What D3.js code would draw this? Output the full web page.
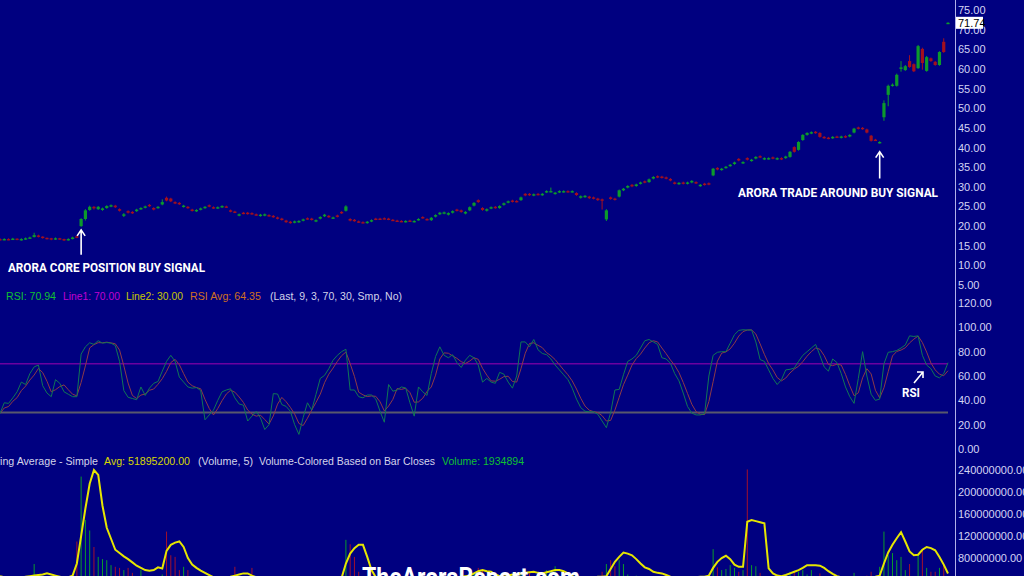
<!DOCTYPE html>
<html>
<head>
<meta charset="utf-8">
<script src="https://cdn.jsdelivr.net/npm/d3@7"></script>
<style>
  html, body { margin: 0; padding: 0; background: #000080; overflow: hidden; }
  svg { display: block; }
  .tick text { font-family: "Liberation Sans", Arial, sans-serif; font-size: 11px; fill: #d4d4f4; }
</style>
</head>
<body>
<script>
// candles (one per trading day)
let opens = [16.7,16.5,16.7,16.6,16.8,16.5,16.6,16.9,17.2,17.6,17.3,17.0,16.9,16.6,16.9,16.7,16.4,16.7,17.4,20.0,
  21.8,24.1,24.9,24.3,24.1,24.6,25.0,25.2,24.3,22.6,23.8,23.6,23.8,24.3,24.7,25.4,24.6,24.6,25.5,27.2,
  27.0,26.1,25.9,24.9,24.9,24.2,23.8,24.2,24.6,25.3,24.8,24.6,24.8,25.0,24.0,23.7,22.7,23.4,23.4,23.3,
  23.0,22.6,22.7,22.8,22.6,22.2,21.9,21.4,21.1,20.9,21.0,21.4,22.0,21.9,21.2,21.9,22.5,22.6,22.0,22.7,
  23.6,23.9,21.8,21.6,21.2,21.0,20.8,21.2,21.9,21.9,22.0,21.9,21.6,21.4,21.3,21.1,21.4,21.1,21.6,22.3,
  21.8,21.5,22.4,23.0,23.2,22.9,23.4,24.2,24.0,23.2,24.0,25.2,26.6,24.6,23.9,24.5,24.9,24.6,25.4,26.0,
  26.5,26.4,26.6,28.2,28.2,27.8,28.2,27.9,28.6,28.8,28.2,28.6,28.7,28.9,28.7,28.4,27.2,27.4,27.5,27.3,
  27.0,26.8,21.7,27.3,27.0,27.5,29.1,29.8,30.5,30.2,30.8,31.4,31.2,32.1,32.7,32.6,32.4,32.0,31.1,30.7,
  31.1,30.8,31.1,31.2,30.2,30.8,30.9,32.9,34.8,34.3,34.8,35.3,35.8,37.1,36.0,37.3,36.6,37.2,37.8,37.0,
  37.1,37.5,37.0,37.3,37.3,37.6,40.1,39.4,41.9,43.2,43.6,44.0,43.7,42.7,42.5,42.4,42.8,42.5,42.9,42.8,
  43.8,45.1,45.0,44.6,43.0,42.0,41.2,47.7,53.4,55.7,55.7,60.0,59.7,62.0,61.2,60.2,65.1,59.5,62.7,61.8,
  61.0,66.9,71.6];
let closes = [16.5,16.7,16.6,16.8,16.6,16.7,16.9,17.1,17.7,17.3,17.0,16.8,16.6,16.9,16.7,16.4,16.7,17.1,17.0,21.8,
  24.0,24.9,24.5,24.9,24.5,25.1,25.3,24.8,23.9,23.0,23.4,23.3,24.2,24.6,25.0,25.1,24.2,24.9,26.1,26.5,
  26.3,25.8,25.6,25.2,24.6,23.9,24.1,24.5,24.9,25.0,24.6,24.8,25.1,24.8,23.7,23.5,23.0,23.2,23.1,23.1,
  22.8,22.9,23.0,22.6,22.3,21.9,21.6,21.0,20.8,21.2,21.3,21.7,21.8,21.6,21.5,22.3,22.9,22.3,22.2,22.4,
  23.3,25.0,21.4,21.3,21.0,20.9,21.1,21.5,21.7,21.8,21.9,21.7,21.5,21.3,21.2,21.3,21.3,21.3,21.8,22.1,
  21.6,22.1,22.8,23.4,23.5,23.3,23.8,23.9,23.6,23.6,24.8,25.9,26.1,24.1,24.3,24.8,24.6,25.1,25.8,26.3,
  26.2,26.2,27.3,27.8,27.9,28.1,28.0,28.2,28.9,28.9,28.5,28.9,28.9,28.7,28.9,27.9,27.6,27.7,27.1,27.0,
  26.6,26.5,24.0,26.9,26.7,29.1,29.5,30.2,30.1,30.6,31.1,31.1,31.9,32.5,32.4,32.3,32.1,31.6,30.8,31.0,
  30.8,31.1,31.5,30.9,30.5,30.5,30.6,34.6,34.4,34.6,35.1,35.6,36.2,36.7,36.3,36.9,36.9,37.6,37.5,37.3,
  37.3,37.2,37.3,37.0,37.7,38.9,38.9,41.4,43.2,43.7,43.9,43.7,42.7,42.4,42.3,42.7,42.6,42.8,42.6,43.2,
  44.8,44.8,44.7,43.8,41.7,41.9,41.4,51.3,55.7,56.0,58.5,60.4,60.7,60.5,59.4,65.8,61.5,63.0,62.0,61.0,
  64.3,64.3,71.74];
let highs = [16.9,16.9,16.9,17.0,16.9,16.9,17.1,17.3,18.3,17.8,17.4,17.1,17.0,17.1,17.0,16.8,16.9,17.3,17.6,22.0,
  24.3,25.2,25.1,25.1,24.7,25.3,25.5,25.4,24.5,23.3,24.0,23.8,24.4,24.8,25.2,25.6,24.8,25.1,26.8,27.5,
  27.2,26.3,26.1,25.4,25.1,24.4,24.3,24.7,25.1,25.5,25.0,25.0,25.3,25.2,24.2,23.9,23.2,23.6,23.6,23.5,
  23.2,23.1,23.2,23.0,22.8,22.4,22.1,21.6,21.3,21.4,21.5,21.9,22.2,22.1,21.7,22.5,23.1,22.8,22.4,22.9,
  23.8,25.3,22.0,21.8,21.4,21.2,21.3,21.7,22.1,22.1,22.2,22.1,21.8,21.6,21.5,21.5,21.6,21.5,22.0,22.5,
  22.0,22.3,23.0,23.6,23.7,23.5,24.0,24.4,24.2,23.8,25.0,26.1,26.8,24.8,24.5,25.0,25.1,25.3,26.0,26.5,
  26.7,26.6,27.5,28.4,28.4,28.3,28.4,28.4,29.1,29.8,28.7,29.1,29.1,29.1,29.1,28.6,27.8,27.9,27.7,27.5,
  27.2,27.0,24.3,27.5,27.2,29.3,29.7,30.4,30.7,30.8,31.3,31.6,32.1,32.7,32.9,32.8,32.6,32.2,31.3,31.2,
  31.3,31.3,31.7,31.4,30.7,31.0,31.1,34.8,35.0,34.8,35.3,35.8,36.4,37.3,36.5,37.5,37.1,37.8,38.0,37.5,
  37.5,37.7,37.5,37.5,37.9,39.1,40.3,41.6,43.4,43.9,44.1,44.2,43.9,42.9,42.7,42.9,43.0,43.0,43.1,43.4,
  45.0,45.3,45.2,44.8,43.2,42.2,41.6,52.0,56.0,56.3,58.8,62.0,61.0,63.5,61.4,66.1,65.4,63.3,62.9,62.0,
  64.5,67.8,71.9];
let lows = [16.3,16.4,16.4,16.5,16.4,16.3,16.5,16.8,17.1,17.1,16.8,16.6,16.4,16.5,16.5,16.2,16.3,16.6,16.9,19.8,
  21.4,23.9,24.2,24.1,23.9,24.4,24.8,24.6,23.7,22.3,23.2,23.1,23.6,24.1,24.5,24.9,24.0,24.4,25.3,26.3,
  26.1,25.6,25.4,24.7,24.4,23.7,23.6,24.0,24.4,24.8,24.4,24.4,24.6,24.6,23.5,23.3,22.5,23.0,22.9,22.9,
  22.6,22.4,22.5,22.4,22.1,21.7,21.4,20.8,20.6,20.7,20.8,21.2,21.6,21.4,21.0,21.7,22.3,22.1,21.8,22.2,
  23.1,23.7,21.2,21.1,20.8,20.7,20.6,21.0,21.5,21.6,21.7,21.5,21.3,21.1,21.0,20.9,21.1,20.9,21.4,21.9,
  21.4,21.3,22.2,22.8,23.0,22.7,23.2,23.7,23.4,23.0,23.8,25.0,25.9,23.9,23.7,24.3,24.4,24.4,25.2,25.8,
  26.0,26.0,26.4,27.6,27.7,27.6,27.8,27.7,28.4,28.6,28.0,28.4,28.5,28.5,28.5,27.7,27.0,27.2,26.9,26.8,
  26.4,24.2,21.3,26.7,26.5,27.3,28.9,29.6,29.9,30.0,30.6,30.9,31.0,31.9,32.2,32.1,31.9,31.4,30.6,30.5,
  30.6,30.6,30.9,30.7,30.0,30.3,30.4,32.7,34.2,34.1,34.6,35.1,35.6,36.5,35.8,36.7,36.4,37.0,37.3,36.8,
  36.9,37.0,36.8,36.8,37.1,37.4,38.7,39.2,41.7,43.0,43.4,43.5,42.5,42.2,42.1,42.2,42.4,42.3,42.4,42.6,
  43.6,44.6,44.5,43.6,41.5,41.7,41.0,46.8,50.5,55.5,55.5,59.3,59.5,60.3,59.2,60.0,59.8,59.3,61.8,60.8,
  60.8,64.1,71.5];

// RSI (9) and its 3-period average
let rsi = [29.3,38,37.5,42,47,55,53,62,67.5,69,52,46,43,57,54,47,45,43,43,78,
  84,87.3,86,89,87,87.5,87,85,72,48,42.5,41.5,40.5,51,44,50,54,55.5,64,72,
  77,72,59,55,51,50,50.5,48,24,28,32,40,47,48.5,49.5,42,37,36,23,27,
  31,25.5,16,20,45.5,45.2,36.5,35,31,20,12,26,38,32,45,58,60.5,66,73,77,
  80,82,48.5,48.5,43,42,44.4,44.4,41,31,22,53,47.5,48.5,51,50.2,38,27,51,47,
  44,62,76,84,77,75,77.5,71,67,73,77,75,69,55,58,55,54,63,61.5,55,
  50,60,88,88,84,90,81.5,78.5,77.5,74,69,65,61,57,50,41,34,31,30.6,30.6,
  28.5,23,17.5,30,48.5,49,61,72,74,77,83,89,90,88,86,75,74,70.5,62,56,
  46,35,29.5,28,28,29,60,77,79.5,80,80,87,94,97.5,98,97.8,97.8,88,73.5,72,
  65,58,53,57,65,65.5,66.5,72,77,80,83,86,77,67.5,64,74,71,62,51,43,
  37.5,58,80,60,45,40,41,70,79.5,80,81,83,85.5,93,92.5,93,77,69,66,60,
  58.5,62,70.94];
let rsiAvg = [29.3,33.7,34.9,39.2,42.2,48,51.7,56.7,60.8,66.2,62.8,55.7,47,48.7,51.3,52.7,48.7,45,43.7,54.7,
  68.3,83.1,85.8,87.4,87.3,87.8,87.2,86.5,81.3,68.3,54.2,44,41.5,44.3,45.2,48.3,49.3,53.2,57.8,63.8,
  71,73.7,69.3,62,55,52,50.5,49.5,40.8,33.3,28,33.3,39.7,45.2,48.3,46.7,42.8,38.3,32,28.7,
  27,27.8,24.2,20.5,27.2,36.9,42.4,38.9,34.2,28.7,21,19.3,25.3,32,38.3,45,54.5,61.5,66.5,72,
  76.7,79.7,70.2,59.7,46.7,44.5,43.1,43.6,43.3,38.8,31.3,35.3,40.8,49.7,49,49.9,46.4,38.4,38.7,41.7,
  47.3,51,60.7,74,79,78.7,76.5,74.5,71.8,70.3,72.3,75,73.7,66.3,60.7,56,55.7,57.3,59.5,59.8,
  55.5,55,66,78.7,86.7,87.3,85.2,83.3,79.2,76.7,73.5,69.3,65,61,56,49.3,41.7,35.3,31.9,30.7,
  29.9,27.4,23,23.5,32,42.5,52.8,60.7,69,74.3,78,83,87.3,89,88,83,78.3,73.2,68.8,62.8,
  54.7,45.7,36.8,30.8,28.5,28.3,39,55.3,72.2,78.8,79.8,82.3,87,92.8,96.5,97.8,97.9,94.5,86.4,77.8,
  70.2,65,58.7,56,58.3,62.5,65.7,68,71.8,76.3,80,83,82,76.8,69.5,68.5,69.7,69,61.3,52,
  43.8,46.2,58.5,66,61.7,48.3,42,50.3,63.5,76.5,80.2,81.3,83.2,87.2,90.3,92.8,87.5,79.7,70.7,65,
  61.5,60.2,64.35];

// volume in millions of shares, and its 5-period simple average
let volume = [30,25,28,22,26,30,24,35,69,40,30,25,28,22,30,26,24,35,110,228,
  149,130,100,82,78,76,67,64,62,58,62,53,45,58,40,38,42,45,50,128,
  85,82,58,64,58,42,40,35,38,30,32,28,35,30,40,64,40,35,45,62,
  38,30,28,35,30,32,28,40,35,30,38,32,28,30,35,30,25,32,28,30,
  45,113,105,82,55,45,40,35,30,28,32,30,26,28,25,30,34,40,30,28,
  32,38,42,36,30,28,34,40,44,38,46,52,62,58,48,52,40,36,45,42,
  38,44,55,50,52,45,50,42,58,54,65,48,40,38,35,42,40,38,36,40,
  42,55,69,76,65,76,69,50,45,48,42,40,46,44,38,40,36,38,35,40,
  42,38,36,40,35,38,48,96,63,58,60,67,62,55,58,241,67,65,53,45,
  40,42,38,44,48,55,56,55,58,50,58,45,52,40,38,36,40,34,38,42,
  53,40,38,48,55,45,64,128,85,89,76,82,58,69,45,85,95,62,55,55,
  62,69,1.934894];
let volAvg = [47,45,44,42,42,44,46,47,48,49,50,52,50,48,46,44,45,48,70,120,
  170,215,240,231,175,135,115,95,89,83,78,72,66,62,58,57,58,63,61,93,
  104,108,110,100,80,68,62,57,53,49,45,42,40,42,46,48,50,52,52,48,
  45,42,38,35,33,32,34,36,37,35,33,32,31,30,31,32,33,32,34,38,
  44,70,88,98,104,104,82,58,45,40,38,36,35,34,33,32,33,35,37,38,
  36,35,36,38,40,42,43,44,46,47,48,52,56,58,56,55,50,47,46,48,
  50,49,52,53,54,55,53,52,54,56,58,58,56,52,47,44,42,40,42,44,
  46,46,47,60,73,82,90,88,85,78,70,63,60,55,53,52,49,46,44,42,
  42,43,44,45,46,46,48,62,73,80,84,78,68,64,64,146,149,147,145,143,
  61,52,48,47,49,52,55,58,62,67,67,67,66,62,56,51,47,45,43,41,
  40,40,41,43,45,46,48,70,90,104,116,127,110,92,85,86,95,100,98,94,
  82,68,51.8952];

// axis ticks
let priceTicks = [5,10,15,20,25,30,35,40,45,50,55,60,65,70,75];
let rsiTicks = [0,20,40,60,80,100,120];
let volTicks = [40,80,120,160,200,240];
let rsiLine1 = 70;
let rsiLine2 = 30;

let W = 1024, H = 576;
let axisX = 955;
let N = closes.length;

let green = '#0c9a2c', red = '#a4101e';

let svg = d3.select('body').append('svg')
  .attr('width', W)
  .attr('height', H);

svg.append('rect').attr('width', W).attr('height', H).attr('fill', '#000080');

let x = d3.scaleLinear().domain([0, N - 1]).range([0, 948]);
let yP = d3.scaleLinear().domain([5, 75]).range([285, 10]);
let yR = d3.scaleLinear().domain([0, 120]).range([449, 303]);
let yV = d3.scaleLinear().domain([0, 240]).range([602, 470]);

let bars = d3.range(N);

// ---- price candles
let candles = svg.append('g');
candles.selectAll('line')
  .data(bars)
  .enter()
  .append('line')
  .attr('x1', i => x(i)).attr('x2', i => x(i))
  .attr('y1', i => yP(highs[i])).attr('y2', i => yP(lows[i]))
  .attr('stroke', i => closes[i] >= opens[i] ? green : red)
  .attr('stroke-width', 1);

candles.selectAll('rect')
  .data(bars)
  .enter()
  .append('rect')
  .attr('x', i => x(i) - 1.6)
  .attr('width', 3.2)
  .attr('y', i => yP(Math.max(opens[i], closes[i])))
  .attr('height', i => Math.max(1.4, Math.abs(yP(opens[i]) - yP(closes[i]))))
  .attr('fill', i => closes[i] >= opens[i] ? green : red);

// ---- RSI panel
svg.append('line')
  .attr('x1', x(0)).attr('x2', x(N - 1))
  .attr('y1', yR(rsiLine1)).attr('y2', yR(rsiLine1))
  .attr('stroke', '#a000b0').attr('stroke-width', 1);
svg.append('line')
  .attr('x1', x(0)).attr('x2', x(N - 1))
  .attr('y1', yR(rsiLine2)).attr('y2', yR(rsiLine2))
  .attr('stroke', '#58586c').attr('stroke-width', 2);

let rsiPath = d3.line().x((d, i) => x(i)).y(d => yR(d));
svg.append('path').datum(rsiAvg)
  .attr('d', rsiPath)
  .attr('fill', 'none').attr('stroke', '#8c3a48').attr('stroke-width', 1);
svg.append('path').datum(rsi)
  .attr('d', rsiPath)
  .attr('fill', 'none').attr('stroke', '#107656').attr('stroke-width', 1);

// ---- volume panel
svg.append('g').selectAll('line')
  .data(bars)
  .enter()
  .append('line')
  .attr('x1', i => x(i)).attr('x2', i => x(i))
  .attr('y1', yV(0)).attr('y2', i => yV(volume[i]))
  .attr('stroke', i => closes[i] >= opens[i] ? '#0a9a2a' : '#a2102c')
  .attr('stroke-width', 1);

svg.append('path').datum(volAvg)
  .attr('d', d3.line().x((d, i) => x(i)).y(d => yV(d)))
  .attr('fill', 'none').attr('stroke', '#e6e600').attr('stroke-width', 2);

// ---- right axis
svg.append('line')
  .attr('x1', axisX + 0.5).attr('x2', axisX + 0.5)
  .attr('y1', 0).attr('y2', H)
  .attr('stroke', '#b0b0e8').attr('stroke-width', 1);

let fmt = d3.format('.2f');
let addAxis = (scale, ticks, format) => {
  let g = svg.append('g')
    .attr('transform', 'translate(' + axisX + ',0)')
    .call(d3.axisRight(scale).tickValues(ticks).tickSize(0).tickPadding(3).tickFormat(format));
  g.select('.domain').remove();
};
addAxis(yP, priceTicks, fmt);
addAxis(yR, rsiTicks, fmt);
addAxis(yV, volTicks, d => fmt(d * 1e6));

// last price marker
let last = closes[N - 1];
svg.append('rect')
  .attr('x', axisX + 1).attr('y', yP(last) - 6)
  .attr('width', 27).attr('height', 12)
  .attr('fill', '#ffffff');
svg.append('text')
  .attr('x', axisX + 3).attr('y', yP(last))
  .attr('dy', '0.35em')
  .style('font-family', '"Liberation Sans", Arial, sans-serif')
  .style('font-size', '11px')
  .attr('fill', '#000000')
  .text(fmt(last));

// ---- legends (each piece squeezed to the width it has in the platform's header)
let legend = (y, parts) => {
  parts.forEach(p => {
    let t = svg.append('text')
      .attr('x', p[0]).attr('y', y)
      .attr('fill', p[3])
      .style('font-family', '"Liberation Sans", Arial, sans-serif')
      .style('font-size', '11px')
      .text(p[2]);
    if (p[1]) t.attr('textLength', p[1]).attr('lengthAdjust', 'spacingAndGlyphs');
  });
};
legend(300, [
  [6, 50, 'RSI: ' + fmt(rsi[N - 1]), '#10c030'],
  [63, 57, 'Line1: ' + fmt(rsiLine1), '#c000d0'],
  [126, 57, 'Line2: ' + fmt(rsiLine2), '#c8c800'],
  [190, 71, 'RSI Avg: ' + fmt(rsiAvg[N - 1]), '#d07020'],
  [270, 132, '(Last, 9, 3, 70, 30, Smp, No)', '#d4d4ea']
]);
legend(465, [
  [-20, 118, 'Moving Average - Simple', '#d4d4ea'],
  [104, 86, 'Avg: ' + fmt(volAvg[N - 1] * 1e6), '#d8d800'],
  [198, 55, '(Volume, 5)', '#d4d4ea'],
  [259, 176, 'Volume-Colored Based on Bar Closes', '#d4d4ea'],
  [442, 82, 'Volume: ' + Math.round(volume[N - 1] * 1e6), '#10c030']
]);

// ---- annotations
let note = (tx, ty, len, str) => {
  svg.append('text')
    .attr('x', tx).attr('y', ty)
    .attr('textLength', len).attr('lengthAdjust', 'spacingAndGlyphs')
    .style('font-family', 'Roboto, "Liberation Sans", sans-serif')
    .style('font-weight', 'bold')
    .style('font-size', '13.5px')
    .attr('fill', '#ffffff')
    .text(str);
};
let upArrow = (ax, tipY, len) => {
  svg.append('path')
    .attr('d', 'M' + ax + ',' + (tipY + len) + 'V' + tipY
      + 'M' + (ax - 4) + ',' + (tipY + 6) + 'L' + ax + ',' + tipY + 'L' + (ax + 4) + ',' + (tipY + 6))
    .attr('fill', 'none').attr('stroke', '#ffffff').attr('stroke-width', 1.6);
};

upArrow(x(19), yP(lows[19]) + 3, 25);
note(8, 272, 197, 'ARORA CORE POSITION BUY SIGNAL');
upArrow(x(206), yP(lows[206]) + 8, 27);
note(738, 197, 200, 'ARORA TRADE AROUND BUY SIGNAL');

note(902, 397, 18, 'RSI');
svg.append('path')
  .attr('d', 'M914,383L923,372M917,372L923,372L923,378')
  .attr('fill', 'none').attr('stroke', '#ffffff').attr('stroke-width', 1.6);

// watermark
svg.append('text')
  .attr('x', 362).attr('y', 586)
  .attr('textLength', 218).attr('lengthAdjust', 'spacingAndGlyphs')
  .style('font-family', 'Roboto, "Liberation Sans", sans-serif')
  .style('font-weight', 'bold')
  .style('font-size', '25px')
  .attr('fill', '#ffffff')
  .text('TheAroraReport.com');
</script>
</body>
</html>
